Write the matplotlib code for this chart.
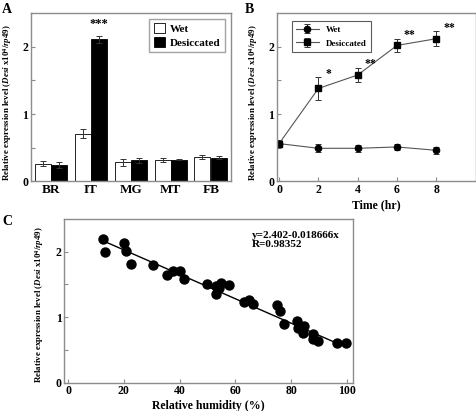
import matplotlib
matplotlib.use("Agg")
import matplotlib.pyplot as plt
import numpy as np

plt.rcParams['font.family'] = ['Liberation Serif', 'DejaVu Serif']
plt.rcParams['font.weight'] = 'bold'
plt.rcParams['mathtext.fontset'] = 'custom'
plt.rcParams['mathtext.rm'] = 'Liberation Serif:bold'
plt.rcParams['mathtext.it'] = 'Liberation Serif:bold:italic'
plt.rcParams['mathtext.bf'] = 'Liberation Serif:bold'

# Panel A data
tissues = ["BR", "IT", "MG", "MT", "FB"]
wet_a = [0.26, 0.71, 0.28, 0.31, 0.36]
wet_a_err = [0.04, 0.06, 0.05, 0.03, 0.03]
des_a = [0.24, 2.11, 0.31, 0.32, 0.35]
des_a_err = [0.04, 0.05, 0.04, 0.01, 0.02]

# Panel B data
time_hr = [0, 2, 4, 6, 8]
wet_b = [0.56, 0.49, 0.49, 0.51, 0.46]
wet_b_err = [0.04, 0.06, 0.05, 0.04, 0.05]
des_b = [0.56, 1.38, 1.58, 2.02, 2.12]
des_b_err = [0.05, 0.17, 0.11, 0.10, 0.11]
sig_b = ["", "*", "**", "**", "**"]

# Panel C data
humidity = [12.4, 13.3, 19.9, 20.7, 22.7, 30.5, 35.4, 37.6, 40.3, 41.5,
            49.8, 53.1, 53.0, 54.3, 55.0, 57.7, 63.0, 64.9, 66.3, 75.1,
            76.1, 77.5, 82.1, 82.4, 84.6, 84.2, 87.7, 87.7, 89.8, 96.3, 99.5]
expr_c = [2.19, 1.99, 2.14, 2.01, 1.82, 1.80, 1.64, 1.71, 1.71, 1.58,
          1.50, 1.35, 1.48, 1.44, 1.52, 1.49, 1.23, 1.27, 1.20, 1.19,
          1.10, 0.90, 0.94, 0.84, 0.86, 0.76, 0.75, 0.67, 0.63, 0.61, 0.61]
fit_a, fit_b = 2.402, -0.018666

ylab = r"Relative expression level ($\it{Desi}$ x10$^{4}$/$\it{rp49}$)"
frame_col = "#8c8c8c"
ylab_fs = 6.4

fig = plt.figure(figsize=(4.77, 4.11), dpi=100)

def style(ax):
    for s in ax.spines.values():
        s.set_color(frame_col)
        s.set_linewidth(1.0)
    ax.tick_params(direction='in', length=3, width=0.8, color=frame_col,
                   labelsize=8.5, pad=2)
    ax.tick_params(which='minor', direction='in', length=3, width=0.8, color=frame_col)
    for lab in ax.get_xticklabels() + ax.get_yticklabels():
        lab.set_fontweight('bold')

# ---- Panel A
axA = fig.add_axes([0.065, 0.559, 0.419, 0.409])
x = np.arange(len(tissues))
w = 0.4
axA.bar(x - w/2 - 0.01, wet_a, w, yerr=wet_a_err, color='white', edgecolor='black',
        linewidth=0.6, error_kw=dict(ecolor='#333333', elinewidth=0.7, capsize=2, capthick=0.7),
        label='Wet')
axA.bar(x + w/2 + 0.01, des_a, w, yerr=des_a_err, color='black', edgecolor='black',
        linewidth=0.6, error_kw=dict(ecolor='#333333', elinewidth=0.7, capsize=2, capthick=0.7),
        label='Desiccated')
axA.text(x[1] + w/2, 2.25, "***", ha='center', va='bottom', fontsize=9, fontweight='bold')
axA.set_xlim(-0.5, 4.5)
axA.set_ylim(0, 2.5)
axA.set_xticks(x)
axA.set_xticklabels(tissues)
axA.set_yticks([0, 1, 2])
axA.set_yticks([0.5, 1.5], minor=True)
axA.set_ylabel(ylab, fontsize=ylab_fs, fontweight='bold')
axA.yaxis.set_label_coords(-0.085, 0.47)
style(axA)
axA.tick_params(axis='x', length=0, labelsize=9.5)
legA = axA.legend(loc='upper right', fontsize=8, frameon=True, fancybox=False,
                  edgecolor=frame_col, handlelength=1.0, handleheight=1.0,
                  borderpad=0.4, labelspacing=0.3, handletextpad=0.5)
legA.get_frame().set_linewidth(1.0)
for t in legA.get_texts():
    t.set_fontweight('bold')
fig.text(0.004, 0.978, "A", fontsize=10, fontweight='bold', va='center')

# ---- Panel B
axB = fig.add_axes([0.581, 0.559, 0.416, 0.409])
axB.errorbar(time_hr, wet_b, yerr=wet_b_err, color='#555555', marker='o', mfc='black',
             mec='black', ms=4.5, lw=0.8, elinewidth=0.7, ecolor='#333333', capsize=2,
             capthick=0.7, label='Wet')
axB.errorbar(time_hr, des_b, yerr=des_b_err, color='#555555', marker='s', mfc='black',
             mec='black', ms=4.5, lw=0.8, elinewidth=0.7, ecolor='#333333', capsize=2,
             capthick=0.7, label='Desiccated')
for t, v, e, s in zip(time_hr, des_b, des_b_err, sig_b):
    if s:
        axB.text(t + 0.35, v + e - 0.04, s, ha='left', va='bottom', fontsize=8.5,
                 fontweight='bold')
axB.set_xlim(-0.1, 10)
axB.set_ylim(0, 2.5)
axB.set_xticks([0, 2, 4, 6, 8])
axB.set_yticks([0, 1, 2])
axB.set_yticks([0.5, 1.5], minor=True)
axB.set_xlabel("Time (hr)", fontsize=8.5, fontweight='bold', labelpad=2)
axB.set_ylabel(ylab, fontsize=ylab_fs, fontweight='bold')
axB.yaxis.set_label_coords(-0.086, 0.47)
style(axB)
legB = axB.legend(loc='upper left', fontsize=6.5, frameon=True, fancybox=False,
                  edgecolor='#333333', handlelength=2.5, borderpad=0.5, labelspacing=0.6,
                  bbox_to_anchor=(0.05, 0.98))
legB.get_frame().set_linewidth(0.8)
for t in legB.get_texts():
    t.set_fontweight('bold')
fig.text(0.513, 0.978, "B", fontsize=10, fontweight='bold', va='center')

# ---- Panel C
axC = fig.add_axes([0.135, 0.069, 0.604, 0.398])
axC.scatter(humidity, expr_c, s=42, color='black', zorder=3)
xf = np.array([12.5, 97.0])
axC.plot(xf, fit_a + fit_b * xf, color='black', lw=1.0, zorder=2)
axC.text(0.65, 0.93, "y=2.402-0.018666x\nR=0.98352", transform=axC.transAxes,
         ha='left', va='top', fontsize=8, fontweight='bold', linespacing=1.1)
axC.set_xlim(-1.3, 102)
axC.set_ylim(0, 2.5)
axC.set_xticks([0, 20, 40, 60, 80, 100])
axC.set_yticks([0, 1, 2])
axC.set_yticks([0.5, 1.5], minor=True)
axC.set_xlabel("Relative humidity (%)", fontsize=8.5, fontweight='bold', labelpad=2)
axC.set_ylabel(ylab, fontsize=ylab_fs, fontweight='bold')
axC.yaxis.set_label_coords(-0.065, 0.48)
style(axC)
fig.text(0.006, 0.46, "C", fontsize=10, fontweight='bold', va='center')

fig.savefig("out.png", dpi=100)
